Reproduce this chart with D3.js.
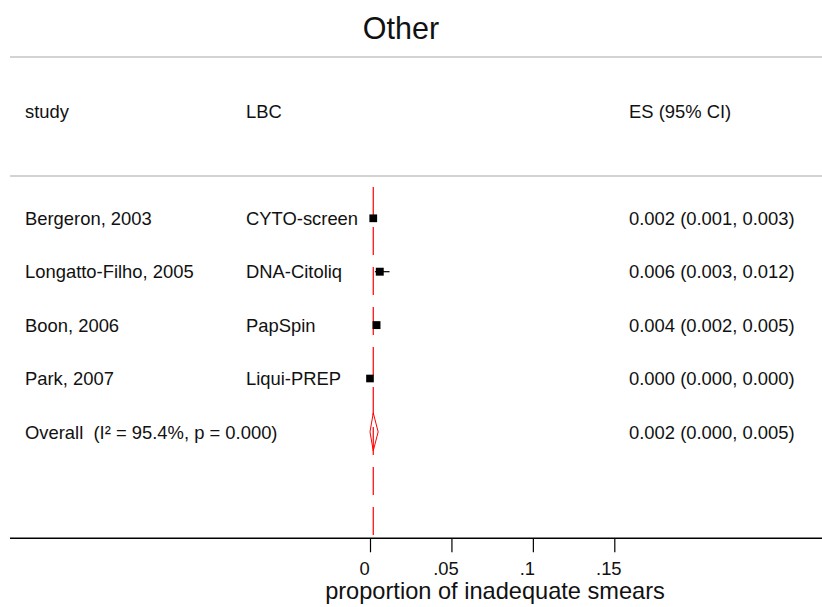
<!DOCTYPE html>
<html>
<head>
<meta charset="utf-8">
<script src="https://cdn.jsdelivr.net/npm/d3@7"></script>
<style>
  html, body { margin: 0; padding: 0; background: #fff; }
  svg { display: block; font-family: "Liberation Sans", Arial, sans-serif; }
  text { white-space: pre; }
</style>
</head>
<body>
<svg id="chart" width="822" height="607"></svg>
<script>
// ---- data ----
const title = "Other";
const studies = ["Bergeron, 2003", "Longatto-Filho, 2005", "Boon, 2006", "Park, 2007"];
const lbc = ["CYTO-screen", "DNA-Citoliq", "PapSpin", "Liqui-PREP"];
const es = [0.002, 0.006, 0.004, 0.000];
const lower = [0.001, 0.003, 0.002, 0.000];
const upper = [0.003, 0.012, 0.005, 0.000];
const weights = [24.6, 25.8, 25.6, 24.0];
const overallLabel = "Overall  (I\u00B2 = 95.4%, p = 0.000)";
const overall = { es: 0.002, lower: 0.000, upper: 0.005 };
const headers = ["study", "LBC", "ES (95% CI)"];
const xTicks = [0, 0.05, 0.1, 0.15];
const xTickLabels = ["0", ".05", ".1", ".15"];
const xTitle = "proportion of inadequate smears";

// ---- layout ----
const svg = d3.select("#chart");
const W = 822;
const x = d3.scaleLinear().domain([0, 0.15]).range([370, 614.3]);
const y = d3.scaleLinear().domain([0, 1]).range([218.3, 271.7]); // row index -> centre
const sizeScale = d3.scaleSqrt().domain([0, 25]).range([0, 7.8]);
const fmt = d3.format(".3f");
const txtColor = "#111";
const fs = 18.4;

// title
svg.append("text").attr("x", 401).attr("y", 38.5)
  .attr("text-anchor", "middle").attr("font-size", 30.5).attr("fill", txtColor)
  .text(title);

// header separator lines
[57, 176].forEach(yy => {
  svg.append("line").attr("x1", 10).attr("x2", W).attr("y1", yy).attr("y2", yy)
    .attr("stroke", "#c4c4c4").attr("stroke-width", 1.5);
});

// headers
const colX = [25, 246, 629];
headers.forEach((h, i) => {
  svg.append("text").attr("x", colX[i]).attr("y", 118)
    .attr("font-size", fs).attr("fill", txtColor).text(h);
});

// overall line (red dashed)
svg.append("line")
  .attr("x1", x(overall.es)).attr("x2", x(overall.es))
  .attr("y1", 187).attr("y2", 538)
  .attr("stroke", "#ff0000").attr("stroke-width", 1.2)
  .attr("stroke-dasharray", "28,12");

// study rows
const rows = studies.map((s, i) => ({ s, l: lbc[i], es: es[i], lo: lower[i], hi: upper[i], w: weights[i], i }));
const g = svg.append("g");
rows.forEach(d => {
  const cy = y(d.i);
  g.append("text").attr("x", colX[0]).attr("y", cy + 6.6)
    .attr("font-size", fs).attr("fill", txtColor).text(d.s);
  g.append("text").attr("x", colX[1]).attr("y", cy + 6.6)
    .attr("font-size", fs).attr("fill", txtColor).text(d.l);
  g.append("text").attr("x", colX[2]).attr("y", cy + 6.6)
    .attr("font-size", fs).attr("fill", txtColor)
    .text(`${fmt(d.es)} (${fmt(d.lo)}, ${fmt(d.hi)})`);
  g.append("line").attr("x1", x(d.lo)).attr("x2", x(d.hi))
    .attr("y1", cy).attr("y2", cy).attr("stroke", "#000").attr("stroke-width", 1.2);
  const s = sizeScale(d.w);
  g.append("rect").attr("x", x(d.es) - s / 2).attr("y", cy - s / 2)
    .attr("width", s).attr("height", s).attr("fill", "#000");
});

// overall row
const oy = y(studies.length);
svg.append("text").attr("x", colX[0]).attr("y", oy + 6.6)
  .attr("font-size", fs).attr("fill", txtColor).text(overallLabel);
svg.append("text").attr("x", colX[2]).attr("y", oy + 6.6)
  .attr("font-size", fs).attr("fill", txtColor)
  .text(`${fmt(overall.es)} (${fmt(overall.lower)}, ${fmt(overall.upper)})`);
const dh = 19;
svg.append("path")
  .attr("d", `M${x(overall.lower)},${oy} L${x(overall.es)},${oy - dh} L${x(overall.upper)},${oy} L${x(overall.es)},${oy + dh} Z`)
  .attr("fill", "none").attr("stroke", "#ff0000").attr("stroke-width", 1);

// x axis
const axisY = 538.3;
svg.append("line").attr("x1", 10).attr("x2", W).attr("y1", axisY).attr("y2", axisY)
  .attr("stroke", "#000").attr("stroke-width", 1.5);
const axis = d3.axisBottom(x).tickValues(xTicks)
  .tickFormat((d, i) => xTickLabels[i]).tickSize(14).tickPadding(10);
const ax = svg.append("g").attr("transform", `translate(0,${axisY})`).call(axis);
ax.select(".domain").remove();
ax.selectAll(".tick line").attr("stroke", "#000").attr("stroke-width", 1.2);
ax.selectAll(".tick text").attr("font-size", fs).attr("fill", txtColor)
  .attr("dx", -6)
  .attr("font-family", "Liberation Sans, Arial, sans-serif");

svg.append("text").attr("x", 495).attr("y", 599)
  .attr("text-anchor", "middle").attr("font-size", 23.6).attr("fill", txtColor)
  .text(xTitle);
</script>
</body>
</html>
